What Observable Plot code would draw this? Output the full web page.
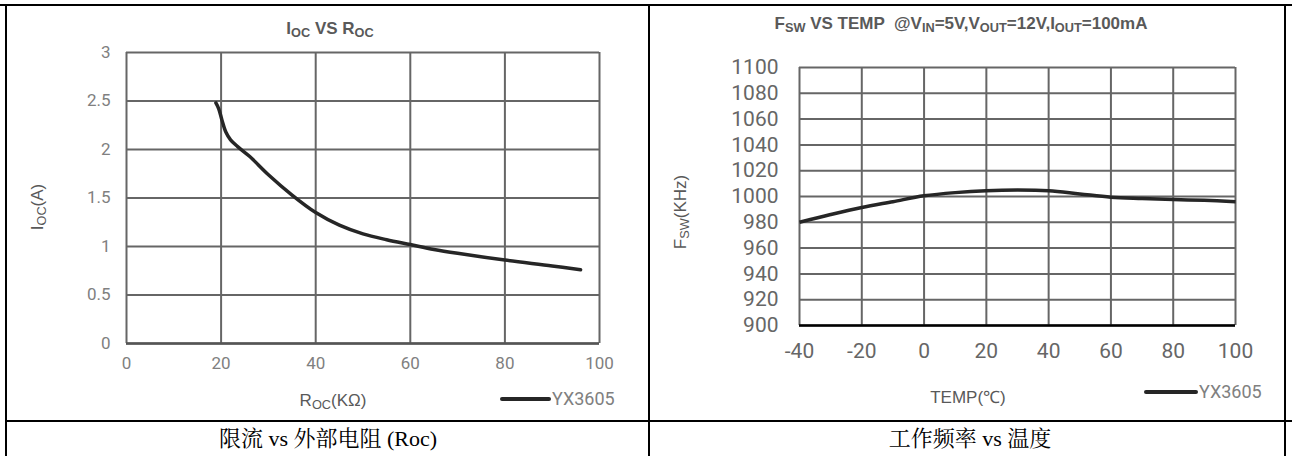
<!DOCTYPE html>
<html><head><meta charset="utf-8">
<script src="https://cdn.jsdelivr.net/npm/d3@7"></script>
<script src="https://cdn.jsdelivr.net/npm/@observablehq/plot@0.6"></script>
<style>
body{margin:0;background:#fff;}
#root{position:relative;width:1292px;height:456px;overflow:hidden;background:#fff;font-family:Roboto,"Noto Sans",sans-serif;}
.abs{position:absolute;white-space:nowrap;line-height:1;}
.ln{position:absolute;background:#000;}
.ttl{font-family:"Liberation Sans",Arial,sans-serif;font-weight:bold;font-size:17px;color:#595959;transform:translate(-50%,-50%);}
.axt{font-family:"Liberation Sans",Arial,sans-serif;font-size:17px;color:#595959;}
.leg{font-family:Roboto,sans-serif;font-size:18px;color:#808080;transform:translateY(-50%);}
.legline{position:absolute;height:4px;background:#262626;border-radius:2px;transform:translateY(-50%);}
.cap{font-family:"Liberation Serif","Times New Roman","Noto Serif CJK SC","Noto Sans CJK SC",serif;font-size:22px;color:#000;transform:translate(-50%,-50%);}
sub{font-size:75%;vertical-align:-0.3em;line-height:0;}
.plot{position:absolute;top:0;}
</style></head>
<body><div id="root"></div>
<script>
// ---- Left chart data: I_OC vs R_OC ----
const rocValues = [18.9, 19.5, 20.2, 21, 22, 23.5, 26, 30, 35, 40, 45, 50, 55, 60, 65, 70, 80, 90, 96];
const iocValues = [2.48, 2.42, 2.3, 2.18, 2.1, 2.03, 1.93, 1.74, 1.53, 1.35, 1.22, 1.13, 1.07, 1.02, 0.97, 0.93, 0.86, 0.8, 0.76];
const rocTicks = [0, 20, 40, 60, 80, 100];
const iocTicks = [0, 0.5, 1, 1.5, 2, 2.5, 3];

// ---- Right chart data: F_SW vs TEMP ----
const tempValues = [-40, -30, -20, -10, 0, 10, 20, 30, 40, 50, 60, 70, 80, 90, 100];
const fswValues = [980, 986, 991.5, 996, 1000.5, 1003, 1004.5, 1005, 1004.5, 1002, 999.5, 998.5, 997.7, 997, 996];
const tempTicks = [-40, -20, 0, 20, 40, 60, 80, 100];
const fswTicks = [900, 920, 940, 960, 980, 1000, 1020, 1040, 1060, 1080, 1100];

const seriesName = "YX3605";

const root = document.getElementById("root");
function add(html){ root.insertAdjacentHTML("beforeend", html); }

// table borders
add('<div class="ln" style="left:5px;top:4px;width:1281px;height:1.5px"></div>');
add('<div class="ln" style="left:0px;top:4px;width:20px;height:2px"></div>');
add('<div class="ln" style="left:634px;top:4px;width:31px;height:2px"></div>');
add('<div class="ln" style="left:1277px;top:4px;width:15px;height:2px"></div>');
add('<div class="ln" style="left:5px;top:4px;width:2px;height:452px"></div>');
add('<div class="ln" style="left:648px;top:4px;width:2px;height:452px"></div>');
add('<div class="ln" style="left:1284px;top:4px;width:2px;height:452px"></div>');
add('<div class="ln" style="left:5px;top:420px;width:1287px;height:2px"></div>');

const gridStyle = {stroke: "#666", strokeOpacity: 1, strokeWidth: 2};

// Left plot
const leftData = rocValues.map((r, i) => ({r, i: iocValues[i]}));
const left = Plot.plot({
  width: 646, height: 421,
  marginLeft: 126, marginRight: 47, marginTop: 52, marginBottom: 78,
  x: {domain: [0, 100], ticks: rocTicks},
  y: {domain: [0, 3], ticks: iocTicks},
  style: {fontSize: "17px", fontFamily: "Roboto, sans-serif", color: "#808080", background: "transparent", overflow: "visible"},
  marks: [
    Plot.gridX(rocTicks, gridStyle),
    Plot.gridY(iocTicks, gridStyle),
    Plot.ruleY([0], {stroke: "#555", strokeWidth: 2.5}),
    Plot.axisX(rocTicks, {tickSize: 0, tickPadding: 13, label: null, tickFormat: d => String(d), fill: "#808080"}),
    Plot.axisY(iocTicks, {tickSize: 0, tickPadding: 16, label: null, tickFormat: d => String(d), fill: "#808080"}),
    Plot.line(leftData, {x: "r", y: "i", curve: "catmull-rom", stroke: "#262626", strokeWidth: 3.5, strokeLinecap: "round"})
  ]
});
left.classList.add("plot");
left.style.left = "0px";
root.appendChild(left);

// Right plot
const rightData = tempValues.map((t, i) => ({t, f: fswValues[i]}));
const right = Plot.plot({
  width: 636, height: 421,
  marginLeft: 150, marginRight: 50, marginTop: 67, marginBottom: 96,
  x: {domain: [-40, 100], ticks: tempTicks},
  y: {domain: [900, 1100], ticks: fswTicks},
  style: {fontSize: "21px", fontFamily: "Roboto, sans-serif", color: "#666", background: "transparent", overflow: "visible"},
  marks: [
    Plot.gridX(tempTicks, gridStyle),
    Plot.gridY(fswTicks, gridStyle),
    Plot.ruleY([900], {stroke: "#000", strokeWidth: 2.5}),
    Plot.axisX(tempTicks, {tickSize: 0, tickPadding: 18, label: null, tickFormat: d => String(d), fill: "#666"}),
    Plot.axisY(fswTicks, {tickSize: 0, tickPadding: 21, label: null, tickFormat: d => String(d), fill: "#666"}),
    Plot.line(rightData, {x: "t", y: "f", curve: "catmull-rom", stroke: "#262626", strokeWidth: 3.5, strokeLinecap: "butt"})
  ]
});
right.classList.add("plot");
right.style.left = "649px";
root.appendChild(right);

// Titles
add('<div class="abs ttl" style="left:330px;top:28px">I<sub>OC</sub> VS R<sub>OC</sub></div>');
add('<div class="abs ttl" style="left:961px;top:23px">F<sub>SW</sub> VS TEMP &nbsp;@V<sub>IN</sub>=5V,V<sub>OUT</sub>=12V,I<sub>OUT</sub>=100mA</div>');

// Axis titles
add('<div class="abs axt" style="left:333px;top:400px;transform:translate(-50%,-50%)">R<sub>OC</sub>(KΩ)</div>');
add('<div class="abs axt" style="left:37px;top:207px;transform:translate(-50%,-50%) rotate(-90deg)">I<sub>OC</sub>(A)</div>');
add('<div class="abs axt" style="left:968px;top:397px;transform:translate(-50%,-50%)">TEMP(℃)</div>');
add('<div class="abs axt" style="left:680px;top:212px;transform:translate(-50%,-50%) rotate(-90deg)">F<sub>SW</sub>(KHz)</div>');

// Legends
add('<div class="legline" style="left:500px;top:399px;width:51px"></div>');
add('<div class="abs leg" style="left:552px;top:399px">' + seriesName + '</div>');
add('<div class="legline" style="left:1144px;top:392px;width:54px"></div>');
add('<div class="abs leg" style="left:1199px;top:392px">' + seriesName + '</div>');

// Captions
add('<div class="abs cap" style="left:328px;top:439px">限流 vs 外部电阻 (Roc)</div>');
add('<div class="abs cap" style="left:970px;top:439px">工作频率 vs 温度</div>');
</script>
</body></html>
